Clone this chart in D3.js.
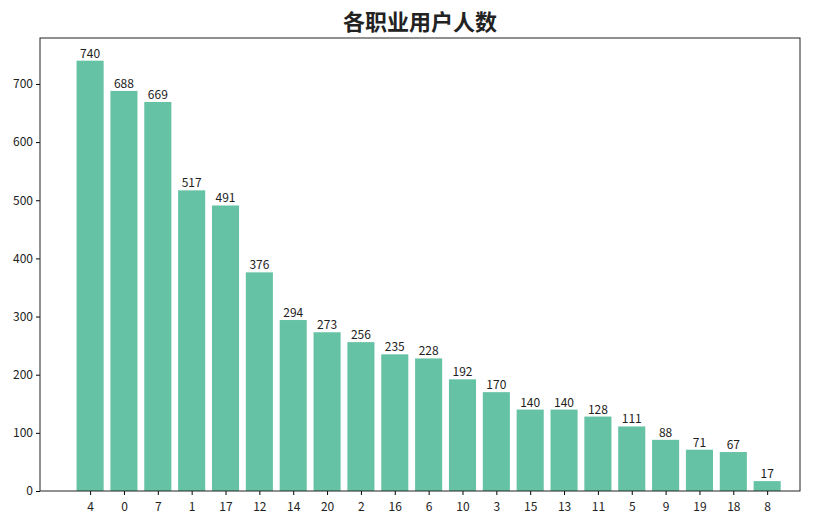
<!DOCTYPE html>
<html><head><meta charset="utf-8">
<script src="https://cdn.jsdelivr.net/npm/d3@7"></script>
<style>body{margin:0;background:#fff}text{font-family:"Noto Sans CJK SC",sans-serif}</style>
</head><body><svg id="chart" width="828" height="523"></svg>
<script>
const categories = ["4","0","7","1","17","12","14","20","2","16","6","10","3","15","13","11","5","9","19","18","8"];
const counts = [740,688,669,517,491,376,294,273,256,235,228,192,170,140,140,128,111,88,71,67,17];
const yTicks = [0,100,200,300,400,500,600,700];

const svg = d3.select("#chart");
const L = 40, R = 800, T = 38, B = 491;

const x = d3.scaleLinear().domain([-1.48, 20.97]).range([L, R]);
const y = d3.scaleLinear().domain([0, 779]).range([B, T]);
const bw = (x(1) - x(0)) * 0.8;

svg.append("text").attr("x", (L + R) / 2).attr("y", 30).attr("text-anchor", "middle")
  .style("font-size", "22px").style("font-weight", "bold").attr("fill", "#222").text("各职业用户人数");

const bars = svg.append("g");
bars.selectAll("rect").data(counts).join("rect")
  .attr("x", (d, i) => x(i) - bw / 2).attr("width", bw)
  .attr("y", d => y(d)).attr("height", d => B - y(d)).attr("fill", "#66c2a5");

bars.selectAll("text").data(counts).join("text")
  .attr("x", (d, i) => x(i)).attr("y", d => y(d) - 3).attr("text-anchor", "middle")
  .style("font-size", "12px").attr("fill", "#222").text(d => d);

const xAxis = svg.append("g").attr("transform", `translate(0,${B})`)
  .call(d3.axisBottom(x).tickValues(d3.range(categories.length)).tickFormat(i => categories[i]).tickSizeOuter(0).tickSize(4));
const yAxis = svg.append("g").attr("transform", `translate(${L},0)`)
  .call(d3.axisLeft(y).tickValues(yTicks).tickSizeOuter(0).tickSize(4));
[xAxis, yAxis].forEach(a => {
  a.selectAll("text").style("font-size", "12px").attr("fill", "#222");
  a.select(".domain").remove();
});
xAxis.selectAll("text").attr("dy", "1.1em");

svg.append("rect").attr("x", L).attr("y", T).attr("width", R - L).attr("height", B - T)
  .attr("fill", "none").attr("stroke", "#222").attr("stroke-width", 1);
</script></body></html>
